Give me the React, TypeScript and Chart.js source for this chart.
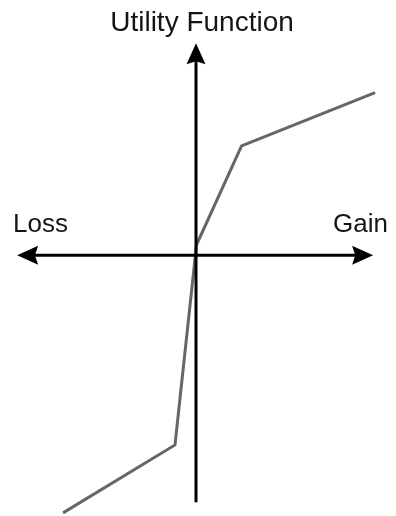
import { useEffect, useRef } from "react";
import { Chart, registerables } from "chart.js";

Chart.register(...registerables);

// Piecewise utility curve (gain/loss on x, utility on y)
const gain = [-7.47, -1.18, 0.03, 2.56, 10.06];
const utility = [-12.25, -9.02, 0.5, 5.2, 7.74];
// Axis arrow extents (data units)
const xAxisEnds = [-10.05, 9.95];
const yAxisEnds = [-11.75, 10.08];
const titleText = "Utility Function";
const lossLabel = "Loss";
const gainLabel = "Gain";

const FONT = '"Liberation Sans", Arial, Helvetica, sans-serif';

function drawArrowHead(ctx: CanvasRenderingContext2D, tx: number, ty: number, dx: number, dy: number) {
  const len = 21;
  const half = 9.5;
  const px = -dy, py = dx;
  const bx = tx - dx * len, by = ty - dy * len;
  const nx = tx - dx * len * 0.85, ny = ty - dy * len * 0.85;
  ctx.beginPath();
  ctx.moveTo(tx, ty);
  ctx.lineTo(bx + px * half, by + py * half);
  ctx.lineTo(nx, ny);
  ctx.lineTo(bx - px * half, by - py * half);
  ctx.closePath();
  ctx.fill();
}

const axesPlugin = {
  id: "utilityAxes",
  afterDatasetsDraw(chart: any) {
    const { ctx, scales, chartArea } = chart;
    const x = scales.x, y = scales.y;
    const x0 = x.getPixelForValue(0);
    const y0 = y.getPixelForValue(0);
    const xl = x.getPixelForValue(xAxisEnds[0]);
    const xr = x.getPixelForValue(xAxisEnds[1]);
    const yt = y.getPixelForValue(yAxisEnds[1]);
    const yb = y.getPixelForValue(yAxisEnds[0]);
    ctx.save();
    ctx.strokeStyle = "#000";
    ctx.fillStyle = "#000";
    ctx.lineWidth = 3;
    ctx.lineCap = "butt";
    ctx.beginPath();
    ctx.moveTo(xl + 15, y0);
    ctx.lineTo(xr - 15, y0);
    ctx.stroke();
    ctx.beginPath();
    ctx.moveTo(x0, yt + 15);
    ctx.lineTo(x0, yb);
    ctx.stroke();
    drawArrowHead(ctx, xl, y0, -1, 0);
    drawArrowHead(ctx, xr, y0, 1, 0);
    drawArrowHead(ctx, x0, yt, 0, -1);

    ctx.fillStyle = "#151515";
    ctx.textBaseline = "alphabetic";
    ctx.font = "28px " + FONT;
    ctx.textAlign = "center";
    ctx.fillText(titleText, x0 + 6, 31);
    ctx.font = "26px " + FONT;
    ctx.textAlign = "left";
    ctx.fillText(lossLabel, chartArea.left - 5, y0 - 23);
    ctx.textAlign = "right";
    ctx.fillText(gainLabel, chartArea.right + 14, y0 - 23);
    ctx.restore();
  },
};

export default function App() {
  const ref = useRef<HTMLCanvasElement | null>(null);
  useEffect(() => {
    if (!ref.current) return;
    const chart = new Chart(ref.current, {
      type: "scatter",
      data: {
        datasets: [
          {
            data: gain.map((g, i) => ({ x: g, y: utility[i] })),
            showLine: true,
            borderColor: "#666666",
            borderWidth: 3,
            pointRadius: 0,
            fill: false,
            tension: 0,
            clip: false as any,
          },
        ],
      },
      options: {
        animation: false,
        responsive: true,
        maintainAspectRatio: false,
        layout: { padding: { left: 18, right: 22, top: 45, bottom: 0 } },
        plugins: { legend: { display: false }, tooltip: { enabled: false }, title: { display: false } },
        scales: {
          x: { type: "linear", min: -10, max: 10, display: false },
          y: { type: "linear", min: -12.4, max: 10, display: false },
        },
      },
      plugins: [axesPlugin],
    });
    return () => chart.destroy();
  }, []);
  return (
    <div style={{ position: "fixed", left: 0, top: 0, width: 396, height: 516, background: "#fff" }}>
      <canvas ref={ref} />
    </div>
  );
}
